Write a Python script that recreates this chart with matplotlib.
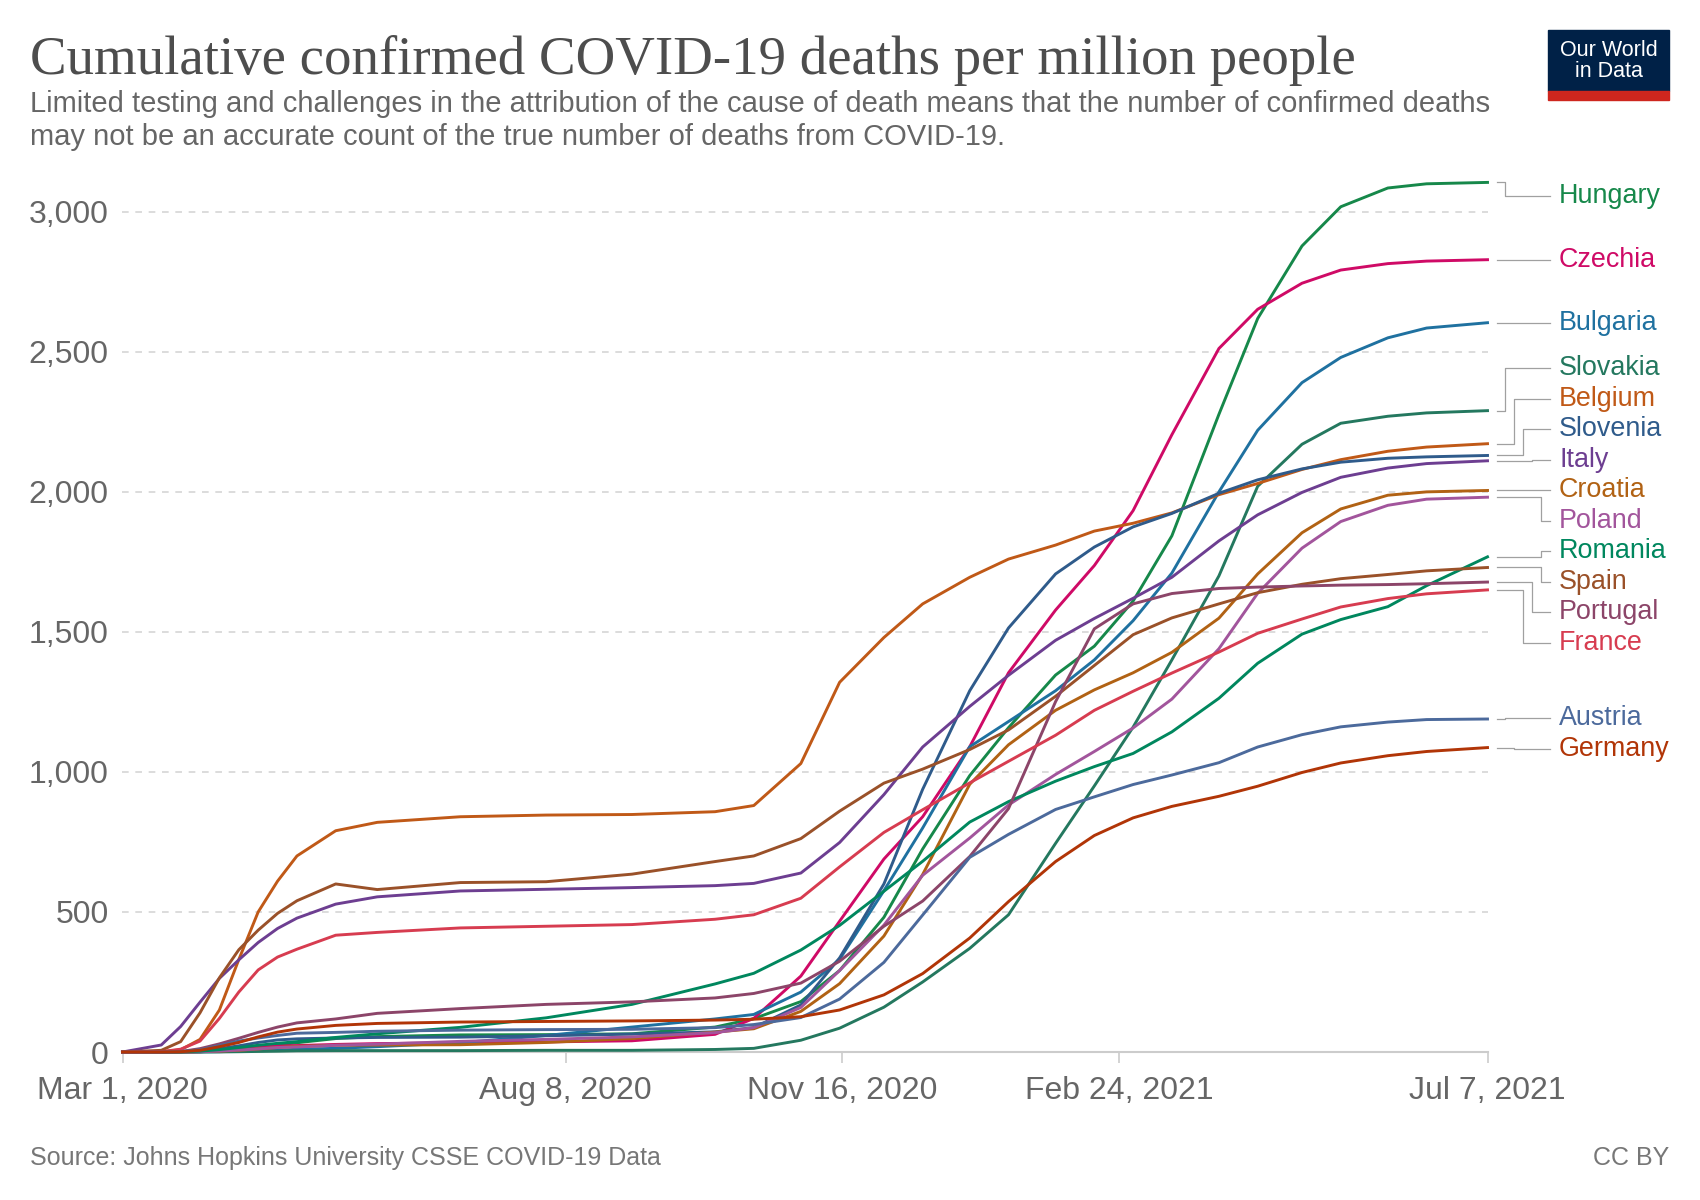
import numpy as np
import matplotlib.pyplot as plt
import matplotlib.transforms as mtransforms
from matplotlib.patches import Rectangle
import pandas as pd

dates = pd.to_datetime([
    "2020-03-01", "2020-03-15", "2020-03-22", "2020-03-29", "2020-04-05", "2020-04-12",
    "2020-04-19", "2020-04-26", "2020-05-03", "2020-05-17", "2020-06-01", "2020-07-01",
    "2020-08-01", "2020-09-01", "2020-10-01", "2020-10-15", "2020-11-01", "2020-11-15",
    "2020-12-01", "2020-12-15", "2021-01-01", "2021-01-15", "2021-02-01", "2021-02-15",
    "2021-03-01", "2021-03-15", "2021-04-01", "2021-04-15", "2021-05-01", "2021-05-15",
    "2021-06-01", "2021-06-15", "2021-07-07"])

# deaths per million
hungary = [0, 0, 0.1, 1, 3.5, 8, 17, 25, 33, 48, 55, 61, 62, 65, 89, 119, 180, 291, 481, 725,
           987, 1158, 1346, 1449, 1610, 1843, 2277, 2619, 2878, 3018, 3085, 3100, 3105]
czechia = [0, 0, 0.1, 0.8, 5.5, 15, 18, 21, 23, 27, 30, 33, 36, 40, 63, 120, 271, 467, 689, 840,
           1090, 1354, 1578, 1737, 1933, 2204, 2512, 2652, 2745, 2792, 2815, 2824, 2829]
bulgaria = [0, 0, 0.3, 0.5, 1.1, 3, 5, 6, 10, 13, 19, 33, 59, 89, 118, 134, 214, 331, 576, 800,
            1090, 1180, 1290, 1400, 1540, 1710, 2000, 2220, 2390, 2480, 2550, 2585, 2604]
slovakia = [0, 0, 0, 0.1, 0.3, 1, 2, 3, 4.4, 5, 5, 5, 6, 6, 9, 13, 42, 85, 160, 250,
            370, 490, 745, 950, 1160, 1400, 1700, 2020, 2170, 2245, 2270, 2282, 2290]
belgium = [0, 1, 8, 45, 150, 330, 500, 610, 700, 790, 820, 840, 846, 848, 858, 880, 1030, 1320, 1480, 1600,
           1695, 1760, 1810, 1860, 1888, 1925, 1990, 2030, 2080, 2115, 2145, 2160, 2172]
slovenia = [0, 0, 1, 5, 12, 22, 34, 43, 47, 50, 52, 53, 58, 64, 72, 87, 168, 336, 600, 938,
            1290, 1514, 1707, 1803, 1875, 1923, 1995, 2043, 2082, 2106, 2120, 2125, 2130]
italy = [0, 25, 91, 178, 263, 329, 391, 441, 478, 528, 554, 575, 581, 587, 594, 602, 639, 748, 919, 1089,
         1234, 1345, 1470, 1548, 1620, 1695, 1825, 1918, 1998, 2052, 2085, 2101, 2111]
croatia = [0, 0, 0.2, 1.5, 3.2, 6, 11, 16, 20, 24, 25, 26, 34, 48, 71, 83, 145, 244, 414, 634,
           956, 1097, 1220, 1293, 1354, 1427, 1549, 1707, 1854, 1939, 1988, 2000, 2005]
poland = [0, 0, 0.3, 1, 3.3, 7, 11, 16, 18, 24, 28, 38, 45, 54, 69, 87, 159, 291, 453, 631,
          764, 882, 991, 1073, 1157, 1260, 1440, 1638, 1799, 1894, 1952, 1974, 1981]
romania = [0, 0, 0.4, 3, 8.5, 16, 24, 31, 37, 52, 65, 88, 122, 170, 243, 281, 364, 452, 574, 681,
           821, 894, 967, 1019, 1066, 1143, 1263, 1388, 1492, 1544, 1590, 1665, 1768]
spain = [0, 6, 37, 140, 265, 365, 435, 495, 540, 600, 580, 605, 608, 635, 680, 700, 762, 860, 960, 1010,
         1080, 1150, 1270, 1380, 1490, 1550, 1600, 1640, 1670, 1690, 1705, 1718, 1730]
portugal = [0, 0, 1.4, 12, 29, 49, 70, 89, 104, 118, 138, 155, 170, 179, 193, 209, 246, 324, 449, 539,
            698, 869, 1251, 1511, 1600, 1637, 1655, 1660, 1664, 1667, 1669, 1672, 1678]
france = [0, 1.3, 10, 39, 120, 214, 293, 339, 367, 417, 427, 443, 449, 455, 474, 490, 549, 661, 784, 865,
          961, 1038, 1131, 1220, 1288, 1353, 1428, 1495, 1546, 1589, 1619, 1636, 1650]
austria = [0, 0, 2, 8, 23, 39, 50, 59, 67, 70, 74, 78, 80, 81, 87, 98, 123, 189, 320, 489,
           695, 777, 866, 911, 955, 989, 1033, 1089, 1133, 1161, 1178, 1187, 1189]
germany = [0, 0, 1, 6, 19, 34, 54, 71, 82, 95, 102, 107, 109, 111, 114, 117, 126, 150, 204, 280,
           407, 537, 680, 773, 836, 877, 913, 949, 998, 1032, 1058, 1073, 1087]

names = ["Hungary", "Czechia", "Bulgaria", "Slovakia", "Belgium", "Slovenia", "Italy", "Croatia",
         "Poland", "Romania", "Spain", "Portugal", "France", "Austria", "Germany"]
series = [hungary, czechia, bulgaria, slovakia, belgium, slovenia, italy, croatia,
          poland, romania, spain, portugal, france, austria, germany]
colors = ["#16884a", "#cf0a66", "#1f71a0", "#24785f", "#c05917", "#2f5b8b", "#6d3e91", "#b16214",
          "#a2559c", "#00875e", "#9a5129", "#8c4569", "#d73c50", "#4c6a9c", "#b13507"]

xtick_dates = pd.to_datetime(["2020-03-01", "2020-08-08", "2020-11-16", "2021-02-24", "2021-07-07"])
xtick_labels = ["Mar 1, 2020", "Aug 8, 2020", "Nov 16, 2020", "Feb 24, 2021", "Jul 7, 2021"]
yticks = [0, 500, 1000, 1500, 2000, 2500, 3000]

plt.rcParams['font.family'] = ['Liberation Sans', 'DejaVu Sans']

W, H = 1700, 1200
fig = plt.figure(figsize=(17, 12), dpi=100)
YMAX = 3110
ax = fig.add_axes([122.5 / W, 1 - 1052 / H, 1365 / W, (1052 - 181) / H])

for vals, col in zip(series, colors):
    ax.plot(dates, vals, color=col, lw=2.1, solid_joinstyle='round', clip_on=False, zorder=3)

ax.set_xlim(xtick_dates[0], xtick_dates[-1])
ax.set_ylim(0, YMAX)
ax.set_xticks(xtick_dates)
ax.set_xticklabels(xtick_labels)
ax.set_yticks(yticks)
ax.set_yticklabels([f"{v:,}" for v in yticks])
ax.tick_params(axis='x', length=8, width=1.2, color='#cccccc', labelsize=23,
               labelcolor='#666666', pad=9)
ax.tick_params(axis='y', length=0, labelsize=23, labelcolor='#666666', pad=10)
ax.yaxis.grid(True, linestyle=(0, (4, 4)), color='#d5d5d5', lw=1.2)
ax.set_axisbelow(True)
for s in ['top', 'right', 'left']:
    ax.spines[s].set_visible(False)
ax.spines['bottom'].set_color('#cccccc')
ax.spines['bottom'].set_linewidth(1.5)
ax.spines['bottom'].set_zorder(2)


# spread labels so they don't overlap, clusters centred on their lines
def spread(values, gap, top):
    order = sorted(range(len(values)), key=lambda i: -values[i])
    clusters = [[i] for i in order]

    def place(c):
        m = np.mean([values[i] for i in c])
        return min(m + gap * (len(c) - 1) / 2, top)

    changed = True
    while changed:
        changed = False
        for k in range(len(clusters) - 1):
            a, b = clusters[k], clusters[k + 1]
            if place(a) - gap * (len(a) - 1) - place(b) < gap:
                clusters[k] = a + b
                del clusters[k + 1]
                changed = True
                break
    pos, elbow_rank = {}, {}
    for c in clusters:
        s = place(c)
        for j, i in enumerate(c):
            pos[i] = s - j * gap
            elbow_rank[i] = min(j, len(c) - 1 - j + 2, 4)
    return pos, elbow_rank


finals = [v[-1] for v in series]
label_y, ranks = spread(finals, 109, YMAX - 52)
tr = mtransforms.blended_transform_factory(fig.transFigure, ax.transData)
for i, name in enumerate(names):
    yl, yt = finals[i], label_y[i]
    ex = 1505 + 9 * ranks[i]
    xs = np.array([1497, ex, ex, 1550]) / W
    ax.plot(xs, [yl, yl, yt, yt], color='#a0a0a0', lw=0.9, transform=tr, clip_on=False)
    ax.text(1559 / W, yt, name, color=colors[i], fontsize=19.4, va='center', ha='left',
            transform=tr, clip_on=False)

# titles
fig.text(30 / W, 1 - 74 / H, "Cumulative confirmed COVID-19 deaths per million people",
         family=['Liberation Serif', 'DejaVu Serif'], fontsize=39.5, color='#4d4d4d', va='baseline')
fig.text(30 / W, 1 - 112 / H,
         "Limited testing and challenges in the attribution of the cause of death means that the number of confirmed deaths",
         fontsize=21, color='#666666', va='baseline')
fig.text(30 / W, 1 - 145 / H,
         "may not be an accurate count of the true number of deaths from COVID-19.",
         fontsize=21, color='#666666', va='baseline')
fig.text(30 / W, 1 - 1165 / H, "Source: Johns Hopkins University CSSE COVID-19 Data",
         fontsize=18, color='#777777', va='baseline')
fig.text(1669 / W, 1 - 1165 / H, "CC BY", fontsize=18, color='#777777', va='baseline', ha='right')

# logo
fig.patches.append(Rectangle((1548 / W, 1 - 91 / H), 121 / W, 61 / H, transform=fig.transFigure,
                             color='#002147', zorder=5))
fig.patches.append(Rectangle((1548 / W, 1 - 100 / H), 121 / W, 9 / H, transform=fig.transFigure,
                             color='#ce261e', zorder=5))
fig.text(1608.5 / W, 1 - 61 / H, "Our World\nin Data", color='white', fontsize=15.5,
         ha='center', va='center', linespacing=1.0, zorder=6)

fig.savefig("out.png", dpi=100, facecolor='white')
